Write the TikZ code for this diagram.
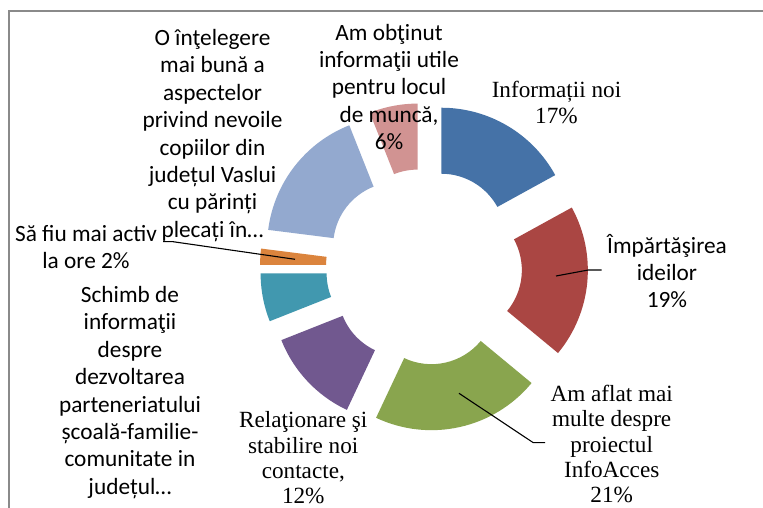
\documentclass[tikz,border=0pt]{standalone}
\usepackage{fontspec}
\setmainfont{Liberation Serif}
\newfontfamily\calib{Carlito}
\definecolor{cBlue}{HTML}{4572A7}
\definecolor{cRed}{HTML}{AA4643}
\definecolor{cGreen}{HTML}{89A54E}
\definecolor{cPurple}{HTML}{71588F}
\definecolor{cTeal}{HTML}{4198AF}
\definecolor{cOrange}{HTML}{DB843D}
\definecolor{cLBlue}{HTML}{93A9CF}
\definecolor{cPink}{HTML}{D19392}
\definecolor{frameGray}{HTML}{8A8A8A}
\tikzset{
  slab/.style={align=center, inner sep=0pt, font=\calib\fontsize{23.3}{27.4}\selectfont},
  serlab/.style={align=center, inner sep=0pt, font=\fontsize{23.2}{25.4}\selectfont},
  leader/.style={draw=black, line width=1.1pt},
  frameline/.style={draw=frameGray, line width=1.5pt},
}
\newcommand{\donutslice}[4]{%
  \fill[#1, shift={(#4:34pt)}] (#2:130pt) arc[start angle=#2, end angle=#3, radius=130pt]
    -- (#3:64pt) arc[start angle=#3, end angle=#2, radius=64pt] -- cycle;}
\begin{document}
\begin{tikzpicture}[x=1pt, y=1pt]
\useasboundingbox (0,0) rectangle (763,508);
\fill[white] (0,0) rectangle (763,508);
\draw[frameline] (9,0) -- (9,497) -- (763,497);

\begin{scope}[shift={(424,241)}]
  \donutslice{cBlue}{90}{28.8}{59.4}
  \donutslice{cRed}{28.8}{-39.6}{-5.4}
  \donutslice{cGreen}{-39.6}{-115.2}{-77.4}
  \begin{scope}[shift={(3,-2)}]
    \donutslice{cPurple}{-115.2}{-158.4}{-136.8}
  \end{scope}
  \donutslice{cTeal}{-158.4}{-180}{-169.2}
  \donutslice{cOrange}{-180}{-187.2}{-183.6}
  \donutslice{cLBlue}{-187.2}{-248.4}{-217.8}
  \donutslice{cPink}{-248.4}{-270}{-259.2}
\end{scope}

% labels
\node[serlab] (lInfo) at (556.5,405.5) {Informații noi\\17\%};
\node[slab] (lImp) at (667,237) {Împărtăşirea\\ideilor\\19\%};
\node[serlab] (lAfl) at (611.7,64) {Am aflat mai\\multe despre\\proiectul\\InfoAcces\\21\%};
\node[serlab] (lRel) at (303.3,50) {Relaţionare şi\\stabilire noi\\contacte,\\12\%};
\node[slab] (lSch) at (130,115.5) {Schimb de\\informaţii\\despre\\dezvoltarea\\parteneriatului\\școală-familie-\\comunitate in\\județul…};
\node[slab] (lSa) at (86,261) {Să fiu mai activ\\la ore 2\%};
\node[slab] (lOin) at (212.5,372.5) {O înţelegere\\mai bună a\\aspectelor\\privind nevoile\\copiilor din\\județul Vaslui\\cu părinți\\plecați în…};
\node[slab] (lObt) at (389,421) {Am obţinut\\informaţii utile\\pentru locul\\de muncă,\\6\%};

% leader lines
\coordinate (pOr) at (295,248.7);
\coordinate (kOr) at (173,266.3);
\coordinate (eOr) at (163,266.3);
\draw[leader] (pOr) -- (kOr) -- (eOr);
\coordinate (pRed) at (556,232);
\coordinate (kRed) at (588.3,238);
\coordinate (eRed) at (601.7,238);
\draw[leader] (pRed) -- (kRed) -- (eRed);
\coordinate (pGr) at (459,114.7);
\coordinate (kGr) at (533.3,65.3);
\coordinate (eGr) at (545,65.3);
\draw[leader] (pGr) -- (kGr) -- (eGr);
\end{tikzpicture}
\end{document}
